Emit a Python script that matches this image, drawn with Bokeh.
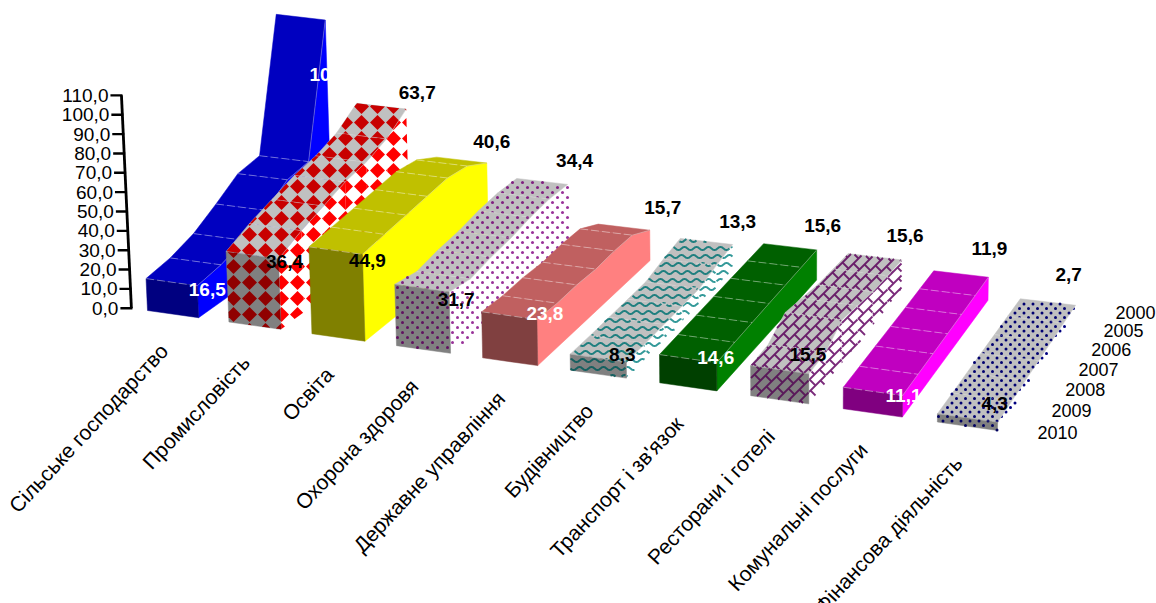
import math

from bokeh.core.properties import value
from bokeh.embed import file_html
from bokeh.models import Range1d
from bokeh.plotting import figure
from bokeh.resources import INLINE

# Share of sectors per year, front row (2010) to back row (2000)
years = ["2010", "2009", "2008", "2007", "2006", "2005", "2000"]
sectors = ["Сільське господарство", "Промисловість", "Освіта", "Охорона здоровя",
           "Державне управління", "Будівництво", "Транспорт і зв'язок",
           "Ресторани і готелі", "Комунальні послуги", "Фінансова діяльність"]
agriculture = [16.5, 18.6, 22.8, 30.0, 37.8, 39.4, 105.0]
industry = [36.4, 42.0, 46.0, 50.0, 52.0, 56.0, 63.7]
education = [44.9, 46.0, 47.0, 48.0, 49.0, 47.0, 40.6]
health = [31.7, 29.0, 31.0, 32.0, 34.0, 35.0, 34.4]
government = [23.8, 22.5, 22.5, 21.5, 22.0, 21.5, 15.7]
construction = [8.3, 8.0, 8.0, 8.0, 8.0, 11.0, 13.3]
transport = [14.6, 14.8, 15.0, 15.2, 15.3, 15.4, 15.6]
restaurants = [15.5, 16.0, 22.5, 20.0, 17.5, 16.5, 15.6]
utilities = [11.1, 11.2, 11.3, 11.4, 11.5, 11.7, 11.9]
finance = [4.3, 4.0, 3.8, 3.5, 3.2, 3.0, 2.7]
series = [agriculture, industry, education, health, government,
          construction, transport, restaurants, utilities, finance]
y_ticks = [0, 10, 20, 30, 40, 50, 60, 70, 80, 90, 100, 110]

# Face colours: side, top, front
fills = [("#0000ff", "#0000c0", "#000080"), ("#ffffff", "#c0c0c0", "#808080"),
         ("#ffff00", "#c0c000", "#808000"), ("#ffffff", "#c0c0c0", "#808080"),
         ("#ff8080", "#c06060", "#804040"), ("#ffffff", "#c0c0c0", "#808080"),
         ("#008000", "#006000", "#004000"), ("#ffffff", "#c0c0c0", "#808080"),
         ("#ff00ff", "#c000c0", "#800080"), ("#ffffff", "#c0c0c0", "#808080")]
inks = [None, ("#ff0000", "#c80000", "#900000"), None,
        ("#993399", "#802080", "#601060"), None,
        ("#339999", "#1f7f7f", "#156060"), None,
        ("#7a2a7a", "#6a1f6a", "#5a1a5a"), None,
        ("#000080", "#000070", "#000060")]
patterns = [None, "diamonds", None, "dots", None, "waves", None, "bricks", None, "dots"]
pattern_period = [None, 16, None, 10, None, 8, None, 12, None, 9]

label_white = [True, False, False, False, True, False, True, False, True, False]
front_label_offset = [(10, 4), (6, 3), (5, 6), (7, 8), (8, -6),
                      (-4, -8), (-1, -5), (-1, -19), (1, 0), (-3, -19)]
back_label_offset = [(8, 55), (11, -17), (5, -22), (7, -24), (13, -23),
                     (5, -23), (6, -24), (3, -24), (1, -29), (-7, -31)]

# Perspective of the floor plane: corners of the plot in screen pixels
FLOOR = [(147.0, 310.0), (997.0, 430.0), (1075.0, 310.0), (283.0, 217.0)]
COLUMN_WIDTH = 0.63
UNIT_PX = 1.935
TILT = 7.2e-5
SPACING_WARP = 0.083


def floor_map(corners):
    (x0, y0), (x1, y1), (x2, y2), (x3, y3) = corners
    dx1, dx2, sx = x1 - x2, x3 - x2, x0 - x1 + x2 - x3
    dy1, dy2, sy = y1 - y2, y3 - y2, y0 - y1 + y2 - y3
    den = dx1 * dy2 - dx2 * dy1
    g = (sx * dy2 - dx2 * sy) / den
    h = (dx1 * sy - sx * dy1) / den
    a, b, c = x1 - x0 + g * x1, x3 - x0 + h * x3, x0
    d, e, f = y1 - y0 + g * y1, y3 - y0 + h * y3, y0

    def to_screen(u, v):
        w = g * u + h * v + 1
        return (a * u + b * v + c) / w, (d * u + e * v + f) / w
    return to_screen


to_floor = floor_map(FLOOR)
SPAN = len(series) - 1 + COLUMN_WIDTH


def project(col, depth, val):
    """Screen position of a point: column position, depth index, height in value units."""
    warped = col + SPACING_WARP * col * (SPAN - col) / SPAN
    fx, fy = to_floor(warped / SPAN, depth / (len(years) - 1))
    h = val * UNIT_PX
    return fx + (fx - 780) * TILT * h, fy - h


p = figure(width=1156, height=603, output_backend="svg", toolbar_location=None,
           x_range=Range1d(0, 1156), y_range=Range1d(603, 0),
           min_border=0, outline_line_color=None, background_fill_color="white",
           border_fill_color="white")
p.axis.visible = False
p.grid.visible = False


def signed_area(poly):
    return sum(poly[k][0] * poly[(k + 1) % len(poly)][1] - poly[(k + 1) % len(poly)][0] * poly[k][1]
               for k in range(len(poly))) / 2


def inside(pt, poly, sign):
    for k in range(len(poly)):
        ax, ay = poly[k]
        bx, by = poly[(k + 1) % len(poly)]
        if sign * ((bx - ax) * (pt[1] - ay) - (by - ay) * (pt[0] - ax)) < 0:
            return False
    return True


def clip(subject, window, sign):
    """Sutherland-Hodgman clip of a polygon against a convex window."""
    out = subject
    for k in range(len(window)):
        ax, ay = window[k]
        bx, by = window[(k + 1) % len(window)]
        side = lambda q: sign * ((bx - ax) * (q[1] - ay) - (by - ay) * (q[0] - ax))
        src, out = out, []
        for m in range(len(src)):
            cur, nxt = src[m], src[(m + 1) % len(src)]
            sc, sn = side(cur), side(nxt)
            if sc >= 0:
                out.append(cur)
            if sc * sn < 0:
                r = sc / (sc - sn)
                out.append((cur[0] + r * (nxt[0] - cur[0]), cur[1] + r * (nxt[1] - cur[1])))
        if not out:
            return []
    return out


def bounds(poly):
    xs = [q[0] for q in poly]
    ys = [q[1] for q in poly]
    return min(xs), max(xs), min(ys), max(ys)


def draw_diamonds(poly, ink, period, sign):
    x0, x1, y0, y1 = bounds(poly)
    xs, ys = [], []
    r = period / 2 - 0.5
    for a in range(int(x0 // period) - 1, int(x1 // period) + 2):
        for b in range(int(y0 // period) - 1, int(y1 // period) + 2):
            cx, cy = a * period + 9, b * period + 10
            piece = clip([(cx - r, cy), (cx, cy - r), (cx + r, cy), (cx, cy + r)], poly, sign)
            if len(piece) >= 3:
                xs.append([q[0] for q in piece])
                ys.append([q[1] for q in piece])
    if xs:
        p.patches(xs, ys, fill_color=ink, line_color=None)


def draw_dots(poly, ink, period, sign):
    x0, x1, y0, y1 = bounds(poly)
    xs, ys = [], []
    half = period / 2
    for b in range(int(y0 // half), int(y1 // half) + 2):
        shift = half if b % 2 else 0
        for a in range(int(x0 // period) - 1, int(x1 // period) + 2):
            pt = (a * period + shift + 2, b * half + 2)
            if inside(pt, poly, sign):
                xs.append(pt[0])
                ys.append(pt[1])
    if xs:
        p.scatter(xs, ys, size=3, marker="circle", fill_color=ink, line_color=None)


def draw_runs(samples, poly, ink, sign, width):
    """Keep only the parts of sampled polylines that fall inside the face."""
    runs = []
    for line in samples:
        run = []
        for pt in line:
            if inside(pt, poly, sign):
                run.append(pt)
            else:
                if len(run) > 1:
                    runs.append(run)
                run = []
        if len(run) > 1:
            runs.append(run)
    if runs:
        p.multi_line([[q[0] for q in r] for r in runs], [[q[1] for q in r] for r in runs],
                     line_color=ink, line_width=width)


def draw_waves(poly, ink, period, sign):
    x0, x1, y0, y1 = bounds(poly)
    samples = []
    for b in range(int(y0 // period), int(y1 // period) + 2):
        samples.append([(x, b * period + 1.6 * math.sin(2 * math.pi * (x + 3 * b) / 12))
                        for x in range(int(x0) - 1, int(x1) + 2)])
    draw_runs(samples, poly, ink, sign, 2.0)


def draw_bricks(poly, ink, period, sign):
    x0, x1, y0, y1 = bounds(poly)
    samples = []
    # Long courses rising to the right, spaced one period apart along x + y
    lo, hi = int((x0 + y0) // period), int((x1 + y1) // period) + 1
    joint = 20
    for k in range(lo, hi + 1):
        s = k * period
        samples.append([(x + 0.5 * t, s - x - 0.5 * t) for x in range(int(x0) - 1, int(x1) + 2)
                        for t in (0, 1)])
        # Short joints across each course, staggered every other course
        start = int((x0 - y1) // joint) - 1
        stop = int((x1 - y0) // joint) + 1
        for j in range(start, stop + 1):
            d = j * joint + (joint / 2 if k % 2 else 0)
            samples.append([((s + t + d) / 2, (s + t - d) / 2)
                            for t in range(0, period + 1)])
    draw_runs(samples, poly, ink, sign, 1.8)


motif = {"diamonds": draw_diamonds, "dots": draw_dots, "waves": draw_waves, "bricks": draw_bricks}


def fill_face(pts, fill):
    p.patches([[q[0] for q in pts]], [[q[1] for q in pts]], fill_color=fill,
              line_color=fill, line_width=0.5)


def texture_face(pts, ink, name, period):
    area = signed_area(pts)
    if name and abs(area) > 1e-6:
        motif[name](pts, ink, period, 1 if area > 0 else -1)


for i, vals in enumerate(series):
    left, right = i, i + COLUMN_WIDTH
    side_fill, top_fill, front_fill = fills[i]
    ink = inks[i] or (None, None, None)
    name, period = patterns[i], pattern_period[i]
    n = len(vals)

    # Side wall: one solid outline, textured panel by panel
    outline = [project(right, d, 0) for d in range(n)]
    outline += [project(right, d, vals[d]) for d in reversed(range(n))]
    fill_face(outline, side_fill)
    for d in reversed(range(n - 1)):
        panel = [project(right, d, 0), project(right, d + 1, 0),
                 project(right, d + 1, vals[d + 1]), project(right, d, vals[d])]
        texture_face(panel, ink[0], name, period)

    for d in reversed(range(n - 1)):
        strip = [project(left, d, vals[d]), project(right, d, vals[d]),
                 project(right, d + 1, vals[d + 1]), project(left, d + 1, vals[d + 1])]
        fill_face(strip, top_fill)
        texture_face(strip, ink[1], name, period)

    front = [project(left, 0, 0), project(right, 0, 0),
             project(right, 0, vals[0]), project(left, 0, vals[0])]
    fill_face(front, front_fill)
    texture_face(front, ink[2], name, period)

    # Faint seams across the top between neighbouring years, and along its right edge
    alpha = 0.2 if name else 0.4
    for d in range(n - 1):
        a, b = project(left, d, vals[d]), project(right, d, vals[d])
        p.line([a[0], b[0]], [a[1], b[1]], line_color="white",
               line_alpha=alpha, line_width=1, line_dash="8 3")
    ridge = [project(right, d, vals[d]) for d in range(n)]
    p.line([q[0] for q in ridge], [q[1] for q in ridge], line_color="white",
           line_alpha=alpha, line_width=0.8)

# Value axis, standing just left of the first column
AXIS_COL = -0.2
TICK_PX = 11
ax = [project(AXIS_COL, 0, t) for t in (y_ticks[0], y_ticks[-1])]
p.line([q[0] for q in ax], [q[1] for q in ax], line_color="black", line_width=2.8)
tick_x, tick_y, tick_txt = [], [], []
for t in y_ticks:
    x, y = project(AXIS_COL, 0, t)
    p.line([x - TICK_PX, x + 1], [y, y], line_color="black", line_width=2.4)
    tick_x.append(x - TICK_PX - 2)
    tick_y.append(y)
    tick_txt.append(f"{t:.1f}".replace(".", ","))
font = value("Liberation Sans")
p.text(tick_x, tick_y, text=tick_txt, text_align="right", text_baseline="middle",
       text_font=font, text_font_size="19px", text_color="black")

# Year labels beside the right-hand floor edge
yr = [project(len(series) - 1 + COLUMN_WIDTH, d, 0) for d in range(len(years))]
p.text([q[0] + 80 for q in yr], [q[1] + 1.5 for q in yr], text=years, text_align="right",
       text_baseline="middle", text_font=font, text_font_size="18px", text_color="black")

# Sector names running up to the front of each column
cat = [project(i + COLUMN_WIDTH / 2, 0, 0) for i in range(len(series))]
p.text([q[0] - 9 for q in cat], [q[1] + 33 for q in cat], text=sectors, angle=math.radians(47),
       text_align="right", text_baseline="middle", text_font=font, text_font_size="21px",
       text_color="black")

# First and last year values printed on each column
for i, vals in enumerate(series):
    color = "white" if label_white[i] else "black"
    for d, off in ((0, front_label_offset[i]), (len(years) - 1, back_label_offset[i])):
        x, y = project(i + COLUMN_WIDTH, d, vals[d])
        back_color = color if i == 0 or d == 0 else "black"
        p.text([x + off[0]], [y + off[1]], text=[f"{vals[d]:.1f}".replace(".", ",")],
               text_align="center", text_baseline="middle", text_font=font,
               text_font_size="19px", text_font_style="bold", text_color=back_color)

open("out.html", "w").write(file_html(p, INLINE))
